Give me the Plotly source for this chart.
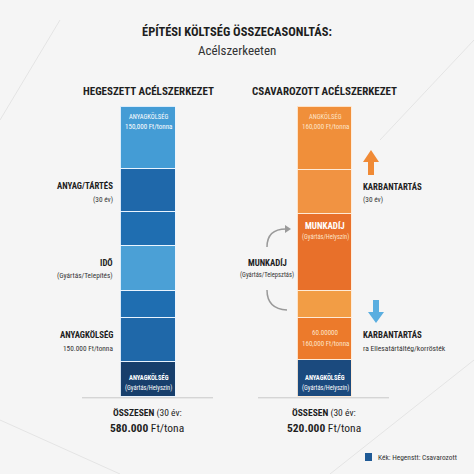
import plotly.graph_objects as go

# ---- data (segment heights, bottom -> top, arbitrary units)
categories = ["Hegesztett", "Csavarozott"]
welded_values = [35, 44, 27, 45, 34, 43, 62]
welded_colors = ["#173f6c", "#1f68a9", "#1f6eb1", "#4ba0d6", "#1f6eb1", "#1f68aa", "#449cd5"]
bolted_values = [37, 42, 27, 77, 44, 63]
bolted_colors = ["#1b4a7e", "#ec7a2b", "#f29d45", "#e8702a", "#f19342", "#f08f3a"]
totals = ["580.000", "520.000"]

W = H = 474
FONT = "Liberation Sans Narrow, Roboto Condensed, Liberation Sans, Arial, sans-serif"
DARK = "#1e1e1e"


def px(x):
    return x / W


def py(y):
    return 1 - y / H


fig = go.Figure()
for v, c in zip(welded_values, welded_colors):
    fig.add_trace(go.Bar(x=[categories[0]], y=[v], marker=dict(color=c, line=dict(color="rgba(235,245,255,0.9)", width=1.5)),
                         width=0.311, hoverinfo="skip", showlegend=False))
for v, c in zip(bolted_values, bolted_colors):
    fig.add_trace(go.Bar(x=[categories[1]], y=[v], marker=dict(color=c, line=dict(color="rgba(255,235,215,0.9)", width=1.5)),
                         width=0.311, hoverinfo="skip", showlegend=False))

ann = []


def text(x, y, t, size, color=DARK, xanchor="center", family=FONT):
    ann.append(dict(x=px(x), y=py(y), xref="paper", yref="paper", text=t, showarrow=False,
                    xanchor=xanchor, yanchor="middle", font=dict(family=family, size=size, color=color)))


# titles
text(237, 32, "<b>ÉPÍTÉSI KÖLTSÉG ÖSSZECASONLTÁS:</b>", 12.5)
text(237, 50, "Acélszerkeeten", 13, "#333333")
text(148, 91, "<b>HEGESZETT ACÉLSZERKEZET</b>", 11)
text(324, 91, "<b>CSAVAROZOTT ACÉLSZERKEZET</b>", 11)

# labels inside bars
WH = "#ffffff"
PALE = "#fde3c8"
text(148.5, 116, "ANYAGKÖLSÉG", 6.5, WH)
text(148.5, 127, "150,000 Ft/tonna", 7, WH)
text(148.5, 377, "<b>ANYAGKÖLSÉG</b>", 6.5, WH)
text(148.5, 388, "(Gyártás/Helyszín)", 6.4, WH)
text(325, 116, "ANGKÖLSÉG", 6.5, PALE)
text(325, 127, "160,000 Ft/tonna", 7, PALE)
text(325, 226, "<b>MUNKADÍJ</b>", 9, WH)
text(325, 237, "(Gyártás/Helyszín)", 6.4, PALE)
text(325, 333, "60.00000", 7, PALE)
text(325, 344, "160,000 Ft/tonna", 7, PALE)
text(325, 377, "<b>ANYAGKÖLSÉG</b>", 6.5, WH)
text(325, 388, "(Gyártás/Helyszín)", 6.4, WH)

# left side labels
text(115, 185, "<b>ANYAG/TÁRTÉS</b>", 8.8, DARK, "right")
text(115, 199, "(30 év)", 7.3, "#333333", "right")
text(115, 262, "<b>IDŐ</b>", 8.8, DARK, "right")
text(115, 275, "(Gyártás/Telepítés)", 7.3, "#333333", "right")
text(115, 334, "<b>ANYAGKÖLSÉG</b>", 8.8, DARK, "right")
text(115, 348, "150.000 Ft/tonna", 7.3, "#333333", "right")

# middle label
text(267, 262, "<b>MUNKADÍJ</b>", 8.8, DARK)
text(267, 275, "(Gyártás/Telepsztás)", 6.5, "#333333")

# right labels
text(361, 186, "<b>KARBANTARTÁS</b>", 8.8, DARK, "left")
text(361, 199, "(30 év)", 7.3, "#333333", "left")
text(361, 334, "<b>KARBANTARTÁS</b>", 8.8, DARK, "left")
text(361, 348, "ra Ellesatártáltég/korrösték", 7.6, "#333333", "left")

# totals
for cx, tot, word in [(147, totals[0], "ÖSSZESEN"), (324, totals[1], "ÖSSESEN")]:
    text(cx, 413, f"<b>{word}</b> (30 év:", 9.5)
    text(cx, 428, f"<b>{tot}</b> Ft/tona", 11.5)

# legend
text(376, 457, "Kék: Hegenstt: Csavarozott", 7.4, "#333333", "left")

shapes = []


def path(points, fill=None):
    d = "M " + " L ".join(f"{px(a):.5f},{py(b):.5f}" for a, b in points) + " Z"
    shapes.append(dict(type="path", xref="paper", yref="paper", path=d,
                       fillcolor=fill, line=dict(width=0)))


def curve(p0, c, p1, color, width):
    d = f"M {px(p0[0]):.5f},{py(p0[1]):.5f} Q {px(c[0]):.5f},{py(c[1]):.5f} {px(p1[0]):.5f},{py(p1[1]):.5f}"
    shapes.append(dict(type="path", xref="paper", yref="paper", path=d,
                       line=dict(color=color, width=width)))


# baselines
for x0, x1 in [(82, 213), (258, 389)]:
    shapes.append(dict(type="line", xref="paper", yref="paper", x0=px(x0), x1=px(x1), y0=py(397.8), y1=py(397.8),
                       line=dict(color="#c8c8c8", width=1)))

# orange up arrow
path([(368, 175), (368, 162), (363, 162), (371, 150), (379, 162), (374, 162), (374, 175)], fill="#f08a35")
# blue down arrow
path([(373, 300), (379, 300), (379, 312), (384, 312), (376, 323), (368, 312), (373, 312)], fill="#5aaee0")

# grey curved arrows
curve((267, 247), (267, 229), (286, 229), "#9a9a9a", 1.5)
path([(285, 225), (291, 229), (285, 233)], fill="#9a9a9a")
curve((267, 290), (267, 309), (287, 310), "#9a9a9a", 1.5)

# legend square
shapes.append(dict(type="rect", xref="paper", yref="paper", x0=px(365), x1=px(372), y0=py(461), y1=py(453),
                   fillcolor="#1f5a96", line=dict(width=0)))

# faint background lines
for (a, b) in [((0, 120), (60, 20)), ((0, 420), (120, 474)), ((380, 140), (474, 40)), ((330, 474), (474, 360))]:
    shapes.append(dict(type="line", xref="paper", yref="paper", x0=px(a[0]), y0=py(a[1]), x1=px(b[0]), y1=py(b[1]),
                       line=dict(color="#e4e4e4", width=1), layer="below"))

fig.update_layout(
    width=W, height=H, margin=dict(l=0, r=0, t=0, b=0),
    barmode="stack", bargap=0,
    paper_bgcolor="#f5f5f5", plot_bgcolor="rgba(0,0,0,0)",
    xaxis=dict(range=[-0.8414, 1.8442], visible=False, type="category", fixedrange=True),
    yaxis=dict(range=[-76.7, 397.3], visible=False, fixedrange=True),
    annotations=ann, shapes=shapes, showlegend=False,
)

fig.write_html("out.html", config={"displayModeBar": False},
               post_script="document.body.style.margin='0';document.body.style.overflow='hidden';")
